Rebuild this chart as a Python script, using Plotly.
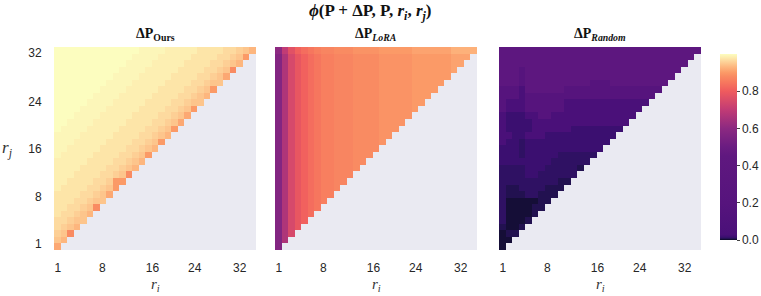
import numpy as np
import plotly.graph_objects as go

# ---------------- data ----------------
# rank index 0..30 on both axes; row k (bottom->top) has cells i = 0..k
rank_index = list(range(31))
x_tick_pos = [0.1, 6.9, 14.6, 21.1, 28.0]
y_tick_pos = [0.4, 7.7, 14.9, 22.2, 29.6]
tick_text = ["1", "8", "16", "24", "32"]

# level codes -> phi values
ours_levels = {"0": 0.880, "1": 0.900, "2": 0.915, "3": 0.930, "4": 0.945, "5": 0.955,
               "6": 0.965, "7": 0.975, "8": 0.985, "9": 0.993, "A": 1.000}
ours_rows = [
    "2",
    "43",
    "540",
    "6543",
    "66544",
    "766543",
    "7766540",
    "77766544",
    "777766542",
    "8777766541",
    "88777766511",
    "888777766540",
    "8888777766543",
    "88888777766543",
    "988888777766541",
    "9988888777766543",
    "99988888777766541",
    "999988888777766543",
    "A999988888777766541",
    "AA999988888777766542",
    "AAA999988888777766542",
    "AAAA999988888777766541",
    "AAAAA999988888777766544",
    "AAAAAA999988888777766543",
    "AAAAAAA999988888777766541",
    "AAAAAAAA999988888777766544",
    "AAAAAAAAA999988888777766542",
    "AAAAAAAAAA999988888777766540",
    "AAAAAAAAAAA999988888777766543",
    "AAAAAAAAAAAA999988888777766541",
    "AAAAAAAAAAAAA999988888777766543",
]

lora_levels = {"a": 0.570, "b": 0.665, "c": 0.745, "d": 0.785, "e": 0.810, "f": 0.830,
               "g": 0.845, "h": 0.860, "i": 0.870, "j": 0.880, "k": 0.890, "l": 0.900,
               "m": 0.910, "n": 0.925, "o": 0.600, "p": 0.700, "q": 0.770}
lora_rows = [
    "a",
    "ab",
    "abc",
    "abcd",
    "abcde",
    "abcdef",
    "abcdefg",
    "abcdefgh",
    "abcdefghh",
    "abcdefghhi",
    "abcdefghhii",
    "abcdefghhiii",
    "abcdefghhiiij",
    "abcdefghhiiijj",
    "abcdefghhiiijjj",
    "abcdefghhiiijjjj",
    "abcdefghhiiijjjjk",
    "abcdefghhiiijjjjkk",
    "abcdefghhiiijjjjkkk",
    "abcdefghhiiijjjjkkkk",
    "abcdefghhiiijjjjkkkkk",
    "abcdefghhiiijjjjkkkkkl",
    "abcdefghhiiijjjjkkkkkll",
    "abcdefghhiiijjjjkkkkklll",
    "abcdefghhiiijjjjkkkkkllll",
    "abcdefghhiiijjjjkkkkklllll",
    "abcdefghhiiijjjjkkkkkllllll",
    "abcdefghhiiijjjjkkkkkllllllm",
    "abcdefghhiiijjjjkkkkkllllllmm",
    "abcdefghhiiijjjjkkkkkllllllmmm",
    "opqefghiijjjkkkklllllmmmmmmnnnn",
]

random_levels = {"A": 0.40, "B": 0.20, "C": 0.030, "D": 0.016, "E": 0.011, "F": 0.007, "G": 0.003}
random_rows = [
    "G",
    "GG",
    "GFF",
    "FGGF",
    "EGGGF",
    "EGGGGF",
    "EGGGGFF",
    "EGGGGGFF",
    "EFFFEEFFF",
    "EFFEEEEFFF",
    "EEEEEEEEEFF",
    "EEEEDDEEEEEE",
    "EEEEDDDEEEEEF",
    "DDDDDDDDEEEEEE",
    "DDDEDDDDDEEEEEE",
    "DDDEDDDDDDDDDDDD",
    "CDDEDDDDDDDDDDDDD",
    "CCDDCCCDDDDDDDDDDD",
    "CDDDDCCCCCCDDDDDDDD",
    "CDDDDCCCCCCCCCCCCCCC",
    "CDDDCCBBCCCCCCCCCCCCC",
    "BCCCBBBBBBCCCCCCCCCCCC",
    "BCCCBBBBBBCCCCCCCCCCCCC",
    "BBBCBBBBBBBBBBBBBBBBBBBB",
    "BBBCAAAAAABBBBBBBBBBBBBBB",
    "AAABAAAAAAAAAABBBAAAAAAAAA",
    "AAABAAAAAAAAAAAAAAAAAAAAAAA",
    "AAABAAAAAAAAAAAAAAAAAAAAAAAA",
    "AAAAAAAAAAAAAAAAAAAAAAAAAAAAA",
    "AAAAAAAAAAAAAAAAAAAAAAAAAAAAAA",
    "AAAAAAAAAAAAAAAAAAAAAAAAAAAAAAA",
]

panel_titles = ["<b>ΔP<sub>Ours</sub></b>", "<b>ΔP<sub><i>LoRA</i></sub></b>",
                "<b>ΔP<sub><i>Random</i></sub></b>"]
cbar_ticks = [0.0, 0.2, 0.4, 0.6, 0.8]


def build(rows, levels):
    n = len(rank_index)
    z = np.full((n, n), np.nan)
    for k, row in enumerate(rows):
        assert len(row) == k + 1, (k, len(row))
        for i, ch in enumerate(row):
            z[k, i] = levels[ch]
    return z


mats = [build(ours_rows, ours_levels), build(lora_rows, lora_levels),
        build(random_rows, random_levels)]

colorscale = [
    [0.000, "#000004"], [0.003, "#150e37"], [0.007, "#221150"], [0.011, "#2f1163"],
    [0.016, "#3b0f70"], [0.030, "#4a1079"], [0.200, "#56147d"], [0.450, "#5f187f"],
    [0.500, "#6a1c81"], [0.600, "#8c2981"], [0.700, "#c13b75"], [0.800, "#ef5b5e"],
    [0.850, "#f7795e"], [0.880, "#f98b62"], [0.900, "#fb9a67"], [0.930, "#fdb67e"],
    [0.960, "#fdd49a"], [0.980, "#fdeaad"], [1.000, "#fcfdbf"],
]

W, H = 761, 296
px_x = [(54, 256), (275, 477), (499, 701)]
py_top, py_bot = 47, 250
ydom = [(H - py_bot) / H, (H - py_top) / H]

fig = go.Figure()
for n, z in enumerate(mats):
    sfx = "" if n == 0 else str(n + 1)
    fig.add_trace(go.Heatmap(z=z, x=rank_index, y=rank_index, coloraxis="coloraxis",
                             xaxis="x" + sfx, yaxis="y" + sfx, hoverongaps=False))

tickfont = dict(family="Liberation Sans, Arial, sans-serif", size=12, color="#262626")
layout = dict(width=W, height=H, margin=dict(l=0, r=0, t=0, b=0),
              paper_bgcolor="white", plot_bgcolor="#EAEAF2", showlegend=False)
for n in range(3):
    sfx = "" if n == 0 else str(n + 1)
    x0, x1 = px_x[n]
    layout["xaxis" + sfx] = dict(domain=[x0 / W, x1 / W], range=[-0.5, 30.5],
                                 anchor="y" + sfx, tickvals=x_tick_pos, ticktext=tick_text,
                                 ticks="outside", ticklen=7, tickcolor="rgba(0,0,0,0)",
                                 showgrid=False, zeroline=False, showline=False,
                                 tickfont=tickfont, automargin=False, fixedrange=True)
    layout["yaxis" + sfx] = dict(domain=ydom, range=[-0.5, 30.5], anchor="x" + sfx,
                                 tickvals=y_tick_pos, ticktext=tick_text,
                                 showticklabels=(n == 0), ticks="outside" if n == 0 else "",
                                 ticklen=9, tickcolor="rgba(0,0,0,0)",
                                 showgrid=False, zeroline=False, showline=False,
                                 tickfont=tickfont, automargin=False, fixedrange=True)

layout["coloraxis"] = dict(
    cmin=0, cmax=1, colorscale=colorscale,
    colorbar=dict(x=720 / W, xanchor="left", xpad=0, thickness=17,
                  len=186 / H, lenmode="fraction", y=(H - 147) / H, yanchor="middle",
                  ypad=0, outlinewidth=0, tickvals=cbar_ticks,
                  ticktext=["%.1f" % v for v in cbar_ticks], ticks="outside",
                  ticklen=3, tickcolor="#444", tickfont=tickfont))

serif = "Liberation Serif, Times New Roman, serif"
ann = [dict(text="<b><i>ϕ</i>(P + ΔP, P, <i>r<sub>i</sub></i>, <i>r<sub>j</sub></i>)</b>",
            x=370 / W, y=(H - 12) / H, xref="paper", yref="paper", showarrow=False,
            xanchor="center", yanchor="middle", font=dict(family=serif, size=17, color="#111"))]
for n in range(3):
    x0, x1 = px_x[n]
    cx = (x0 + x1) / 2 / W
    ann.append(dict(text=panel_titles[n], x=cx, y=(H - 35) / H, xref="paper", yref="paper",
                    showarrow=False, xanchor="center", yanchor="middle",
                    font=dict(family=serif, size=14, color="#111")))
    ann.append(dict(text="<i>r<sub>i</sub></i>", x=cx, y=(H - 285) / H, xref="paper",
                    yref="paper", showarrow=False, xanchor="center", yanchor="middle",
                    font=dict(family=serif, size=15, color="#333")))
ann.append(dict(text="<i>r<sub>j</sub></i>", x=0, y=(H - 149) / H, xref="paper",
                yref="paper", showarrow=False, xanchor="left", yanchor="middle",
                font=dict(family=serif, size=17, color="#333")))
layout["annotations"] = ann

fig.update_layout(**layout)
fig.write_html("out.html", config={"displayModeBar": False},
               post_script="document.body.style.margin='0';")
